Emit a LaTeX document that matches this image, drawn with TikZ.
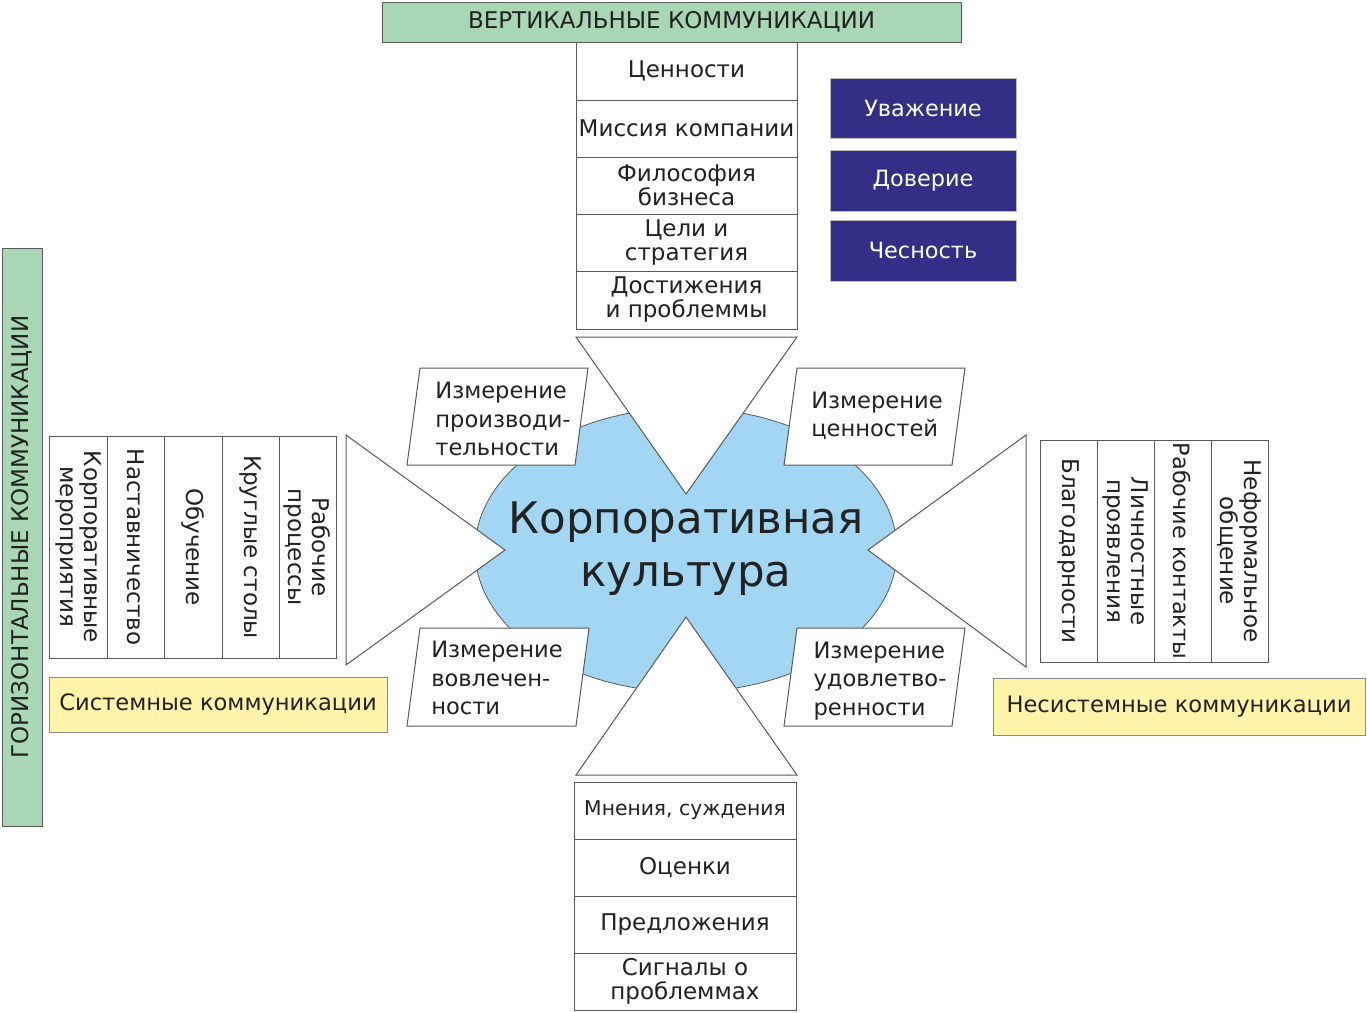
\documentclass[tikz,border=0pt]{standalone}
\usepackage{fontspec}
\setmainfont{DejaVu Sans}
\usetikzlibrary{shapes.geometric}
\definecolor{lineg}{HTML}{5A5A5A}
\definecolor{txt}{HTML}{222222}
\definecolor{hgreen}{HTML}{A9D6B4}
\definecolor{hyellow}{HTML}{FFF4AA}
\definecolor{dblue}{HTML}{332F87}
\definecolor{cblue}{HTML}{A3D6F3}
\tikzset{
  base/.style={inner sep=0pt, align=center, text=txt, font=\fontsize{23}{24}\selectfont},
  cell/.style={base, draw=lineg, line width=1pt, fill=white},
  hdr/.style={base, draw=lineg, line width=1pt, fill=hgreen},
  ylw/.style={base, draw=lineg!70, line width=0.8pt, fill=hyellow, font=\fontsize{22.6}{24}\selectfont},
  blu/.style={base, draw=lineg!40, line width=0.8pt, fill=dblue, text=white, minimum width=186pt, font=\fontsize{22.4}{24}\selectfont},
  tri/.style={draw=lineg, line width=1pt, fill=white, line join=miter},
  para/.style={draw=lineg, line width=1pt, fill=white},
  ptxt/.style={inner sep=0pt, align=left, text=txt, font=\fontsize{22.6}{28.5}\selectfont},
}
\begin{document}
\begin{tikzpicture}[x=1pt,y=-1pt]
\useasboundingbox (0,0) rectangle (1367,1012);
% central ellipse
\node[draw=lineg, line width=0.8pt, fill=cblue, ellipse, minimum width=422pt, minimum height=284pt, inner sep=0pt] (core) at (686,550) {};
% triangles
\coordinate (ta) at (576,337); \coordinate (tb) at (797,337); \coordinate (tc) at (686,494);
\coordinate (ba) at (576,775); \coordinate (bb) at (797,775); \coordinate (bc) at (686,617);
\coordinate (la) at (346,435); \coordinate (lb) at (346,665); \coordinate (lc) at (505,550);
\coordinate (ra) at (1026,435); \coordinate (rb) at (1026,667); \coordinate (rc) at (868,550);
\draw[tri] (ta) -- (tb) -- (tc) -- cycle;
\draw[tri] (ba) -- (bb) -- (bc) -- cycle;
\draw[tri] (la) -- (lb) -- (lc) -- cycle;
\draw[tri] (ra) -- (rb) -- (rc) -- cycle;
% parallelograms
\coordinate (p1a) at (420,368); \coordinate (p1b) at (588,368); \coordinate (p1c) at (575,465); \coordinate (p1d) at (407,465);
\coordinate (p2a) at (797,368); \coordinate (p2b) at (965,368); \coordinate (p2c) at (952,465); \coordinate (p2d) at (784,465);
\coordinate (p3a) at (420,628); \coordinate (p3b) at (589,628); \coordinate (p3c) at (576,726); \coordinate (p3d) at (407,726);
\coordinate (p4a) at (797,628); \coordinate (p4b) at (965,628); \coordinate (p4c) at (952,726); \coordinate (p4d) at (784,726);
\draw[para] (p1a) -- (p1b) -- (p1c) -- (p1d) -- cycle;
\draw[para] (p2a) -- (p2b) -- (p2c) -- (p2d) -- cycle;
\draw[para] (p3a) -- (p3b) -- (p3c) -- (p3d) -- cycle;
\draw[para] (p4a) -- (p4b) -- (p4c) -- (p4d) -- cycle;
\node[ptxt] (m1) at (503,419) {Измерение\\производи-\\тельности};
\node[ptxt] (m2) at (877,416) {Измерение\\ценностей};
\node[ptxt] (m3) at (497,678) {Измерение\\вовлечен-\\ности};
\node[ptxt] (m4) at (880,681) {Измерение\\удовлетво-\\ренности};
% core text
\node[inner sep=0pt, align=center, text=txt, font=\fontsize{43.5}{53}\selectfont] (coretext) at (686,549) {Корпоративная\\культура};
% headers
\node[hdr, minimum width=579pt, minimum height=40pt] (vh) at (671.5,22) {ВЕРТИКАЛЬНЫЕ КОММУНИКАЦИИ};
\node[hdr, rotate=90, minimum width=578pt, minimum height=40pt] (hh) at (22,537) {ГОРИЗОНТАЛЬНЫЕ КОММУНИКАЦИИ};
% top column
\node[cell, minimum width=221pt, minimum height=58pt] (v1) at (686.5,71) {Ценности};
\node[cell, minimum width=221pt, minimum height=57pt] (v2) at (686.5,128.5) {Миссия компании};
\node[cell, minimum width=221pt, minimum height=57pt] (v3) at (686.5,185.5) {Философия\\бизнеса};
\node[cell, minimum width=221pt, minimum height=57pt] (v4) at (686.5,242.5) {Цели и\\стратегия};
\node[cell, minimum width=221pt, minimum height=58pt] (v5) at (686.5,300) {Достижения\\и проблеммы};
% bottom column
\node[cell, minimum width=222pt, minimum height=57pt, font=\fontsize{20.3}{24}\selectfont] (b1) at (685,810.5) {Мнения, суждения};
\node[cell, minimum width=222pt, minimum height=57pt] (b2) at (685,867.5) {Оценки};
\node[cell, minimum width=222pt, minimum height=57pt] (b3) at (685,924.5) {Предложения};
\node[cell, minimum width=222pt, minimum height=57pt] (b4) at (685,981.5) {Сигналы о\\проблеммах};
% left column
\node[cell, rotate=-90, minimum width=222pt, minimum height=58pt] (l1) at (78,547) {Корпоративные\\мероприятия};
\node[cell, rotate=-90, minimum width=222pt, minimum height=57pt] (l2) at (135.5,547) {Наставничество};
\node[cell, rotate=-90, minimum width=222pt, minimum height=58pt] (l3) at (193,547) {Обучение};
\node[cell, rotate=-90, minimum width=222pt, minimum height=57pt] (l4) at (250.5,547) {Круглые столы};
\node[cell, rotate=-90, minimum width=222pt, minimum height=57pt] (l5) at (307.5,547) {Рабочие\\процессы};
% right column
\node[cell, rotate=-90, minimum width=222pt, minimum height=57pt] (r1) at (1068.5,551) {Благодарности};
\node[cell, rotate=-90, minimum width=222pt, minimum height=57pt] (r2) at (1125.5,551) {Личностные\\проявления};
\node[cell, rotate=-90, minimum width=222pt, minimum height=57pt, font=\fontsize{22.4}{24}\selectfont] (r3) at (1182.5,551) {Рабочие контакты};
\node[cell, rotate=-90, minimum width=222pt, minimum height=57pt] (r4) at (1239.5,551) {Неформальное\\общение};
% yellow
\node[ylw, minimum width=338pt, minimum height=55pt] (sys) at (218,704.5) {Системные коммуникации};
\node[ylw, minimum width=372pt, minimum height=57pt] (nsys) at (1179,706.5) {Несистемные коммуникации};
% blue
\node[blu, minimum height=60pt] (u1) at (923,108) {Уважение};
\node[blu, minimum height=61pt] (u2) at (923,180.5) {Доверие};
\node[blu, minimum height=61pt] (u3) at (923,250.5) {Чесность};
\end{tikzpicture}
\end{document}
